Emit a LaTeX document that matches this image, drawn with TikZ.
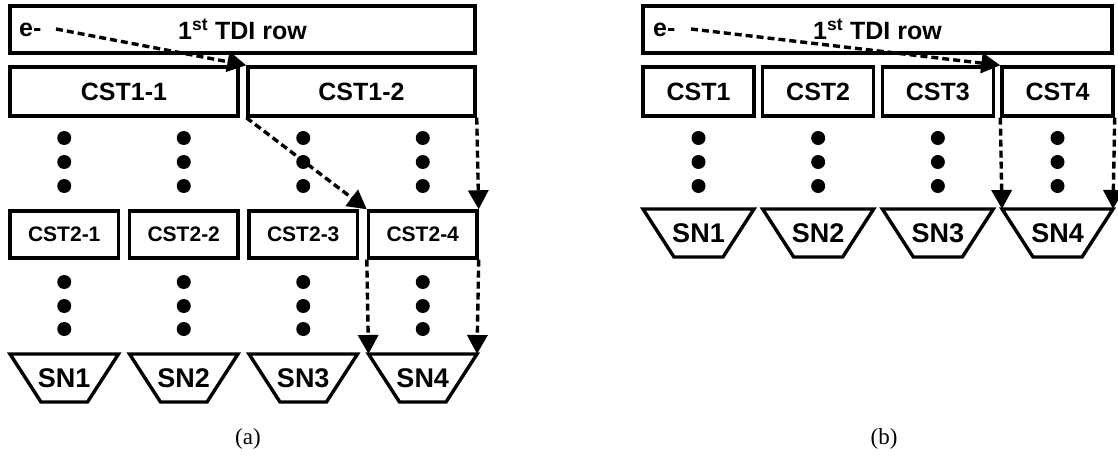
\documentclass[tikz,border=0pt]{standalone}
\usepackage{fontspec}
\setmainfont{Liberation Sans}
\newfontfamily\capfont{Liberation Serif}
\usetikzlibrary{arrows.meta}
\begin{document}
\begin{tikzpicture}[x=1pt,y=-1pt,
  cellbox/.style={draw,line width=3.4pt,inner sep=0pt,font=\fontsize{25}{30}\selectfont\bfseries},
  smallbox/.style={cellbox,font=\fontsize{21}{25}\selectfont\bfseries},
  rowbox/.style={draw,line width=3.4pt,inner sep=0pt,font=\fontsize{25}{30}\selectfont\bfseries},
  etext/.style={anchor=west,inner sep=0pt,font=\fontsize{25}{30}\selectfont\bfseries},
  sntext/.style={inner sep=0pt,font=\fontsize{27}{32}\selectfont\bfseries},
  snshape/.style={draw,line width=3.4pt,line join=miter},
  flow/.style={line width=3.4pt,dash pattern=on 7pt off 4pt,-{Triangle[length=19pt,width=20pt]}},
  dotmark/.style={fill=black},
  caption/.style={font=\capfont\fontsize{23}{27}\selectfont}]
\useasboundingbox (0,0) rectangle (1118,457);

% ---------------- panel (a) ----------------
\node[rowbox,minimum width=465pt,minimum height=47pt] (tdiA) at (242.5,29.5) {1\textsuperscript{st} TDI row};
\node[etext] (eA) at (19,30) {e-};
\coordinate (eAs) at (56,29);
\node[cellbox,minimum width=228pt,minimum height=49pt] (c11) at (124,91.5) {CST1-1};
\node[cellbox,minimum width=227pt,minimum height=49pt] (c12) at (361.5,91.5) {CST1-2};

\foreach \i/\t in {1/CST2-1,2/CST2-2,3/CST2-3,4/CST2-4}{
  \pgfmathsetmacro\cx{64.25+119.5*(\i-1)}
  \node[smallbox,minimum width=108.5pt,minimum height=47pt] (c2\i) at (\cx,234.5) {\t};
  \foreach \y in {138,162,186,282,306,329}
    \fill[dotmark] (\cx,\y) circle[radius=7];
  \pgfmathsetmacro\l{\cx-54.25}
  \pgfmathsetmacro\r{\cx+54.25}
  \draw[snshape] (\l,354) -- (\r,354) -- (\r-31,402) -- (\l+31,402) -- cycle;
  \coordinate (snA\i tl) at (\l,354);
  \coordinate (snA\i tr) at (\r,354);
  \node[sntext] (snA\i) at (\cx,378) {SN\i};
}

\draw[flow] (eAs) -- (c12.north west);
\draw[flow] (c12.south west) -- (c24.north west);
\draw[flow] (c12.south east) -- (c24.north east);
\draw[flow] (c24.south west) -- (snA4tl);
\draw[flow] (c24.south east) -- (snA4tr);

\node[caption] (capA) at (248,439) {(a)};

% ---------------- panel (b) ----------------
\node[rowbox,minimum width=469pt,minimum height=47pt] (tdiB) at (877.5,29.5) {1\textsuperscript{st} TDI row};
\node[etext] (eB) at (653,30) {e-};
\coordinate (eBs) at (691,29);

\foreach \i in {1,2,3,4}{
  \pgfmathsetmacro\cx{698.5+119.67*(\i-1)}
  \node[cellbox,minimum width=111pt,minimum height=49pt] (cb\i) at (\cx,91.5) {CST\i};
  \foreach \y in {138,162,186}
    \fill[dotmark] (\cx,\y) circle[radius=7];
  \pgfmathsetmacro\l{\cx-55.5}
  \pgfmathsetmacro\r{\cx+55.5}
  \draw[snshape] (\l,209) -- (\r,209) -- (\r-31,257) -- (\l+31,257) -- cycle;
  \coordinate (snB\i tl) at (\l,209);
  \coordinate (snB\i tr) at (\r,209);
  \node[sntext] (snB\i) at (\cx,233) {SN\i};
}

\draw[flow] (eBs) -- (cb4.north west);
\draw[flow] (cb4.south west) -- (snB4tl);
\draw[flow] (cb4.south east) -- (snB4tr);

\node[caption] (capB) at (884,439) {(b)};
\end{tikzpicture}
\end{document}
